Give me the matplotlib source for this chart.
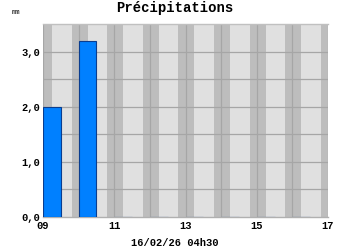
import matplotlib
matplotlib.use("Agg")
import matplotlib.pyplot as plt

hours = [9, 10, 11, 12, 13, 14, 15, 16]
precip = [2.0, 3.2, 0.0, 0.0, 0.0, 0.0, 0.0, 0.0]
xtick_pos = [9, 11, 13, 15, 17]
xtick_labels = ["09", "11", "13", "15", "17"]
ytick_pos = [0, 1, 2, 3]
ytick_labels = ["0,0", "1,0", "2,0", "3,0"]
title = "Précipitations"
unit = "mm"
xlabel = "16/02/26 04h30"

mono = "Liberation Mono"

fig = plt.figure(figsize=(3.5, 2.5), dpi=100)
fig.patch.set_facecolor("white")
ax = fig.add_axes([43 / 350, 1 - 216.7 / 250, 285 / 350, (216.7 - 24) / 250])
ax.set_facecolor("#e0e0e0")
ax.set_xlim(9, 17)
ax.set_ylim(0, 3.5)

# darker vertical bands around each hour
for h in range(9, 18):
    ax.axvspan(h - 0.2, h + 0.25, color="#bdbdbd", lw=0, zorder=0.5)
# grid
for h in range(9, 18):
    ax.axvline(h, color="#a6a6a6", lw=0.9, zorder=0.8)
for yv in [0.5, 1.0, 1.5, 2.0, 2.5, 3.0]:
    ax.axhline(yv, color="#a6a6a6", lw=0.9, zorder=0.8)

ax.bar(hours, precip, width=0.5, align="edge", color="#0080ff",
       edgecolor="#0a3d8f", linewidth=0.8, zorder=2)

for s in ax.spines.values():
    s.set_visible(False)
ax.plot([0, 1], [1, 1], transform=ax.transAxes, color="#c0c0c0", lw=1, zorder=3, clip_on=False)
ax.plot([0, 1], [0, 0], transform=ax.transAxes, color="#b0b0b0", lw=1, zorder=1, clip_on=False)

ax.set_xticks(xtick_pos)
ax.set_xticklabels(xtick_labels, fontfamily=mono, fontweight="bold", fontsize=7.5)
ax.set_yticks(ytick_pos)
ax.set_yticklabels(ytick_labels, fontfamily=mono, fontweight="bold", fontsize=7.5)
ax.tick_params(axis="both", length=0)
ax.tick_params(axis="x", pad=3)
ax.tick_params(axis="y", pad=2)

fig.text(174.5 / 350, 1 - 8 / 250, title, ha="center", va="center",
         fontfamily=mono, fontweight="bold", fontsize=10)
fig.text(16 / 350, 1 - 13 / 250, unit, ha="center", va="center",
         fontfamily=mono, fontweight="bold", fontsize=5, color="#333333")
fig.text(175 / 350, 1 - 243 / 250, xlabel, ha="center", va="center",
         fontfamily=mono, fontweight="bold", fontsize=7.5)

fig.savefig("out.png", dpi=100)
